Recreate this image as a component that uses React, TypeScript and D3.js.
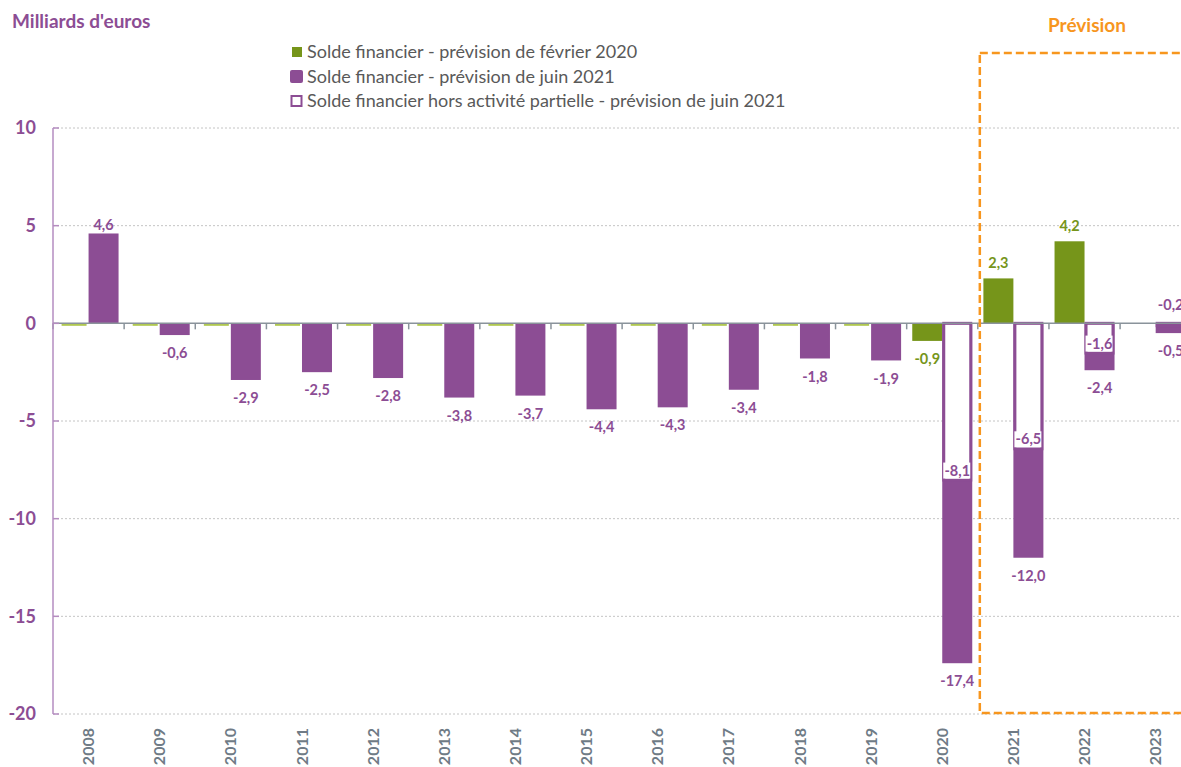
import React from "react";
import * as d3 from "d3";

const years = ["2008","2009","2010","2011","2012","2013","2014","2015","2016","2017","2018","2019","2020","2021","2022","2023"];
const fev2020: (number | null)[] = [0,0,0,0,0,0,0,0,0,0,0,0,-0.9,2.3,4.2,null];
const juin2021: number[] = [4.6,-0.6,-2.9,-2.5,-2.8,-3.8,-3.7,-4.4,-4.3,-3.4,-1.8,-1.9,-17.4,-12.0,-2.4,-0.5];
const horsAP: (number | null)[] = [null,null,null,null,null,null,null,null,null,null,null,null,-8.1,-6.5,-1.6,-0.2];
const yTicks = [10,5,0,-5,-10,-15,-20];
const legendLabels = [
  "Solde financier - prévision de février 2020",
  "Solde financier - prévision de juin 2021",
  "Solde financier hors activité partielle - prévision de juin 2021",
];
const forecastStart = "2021";

const PURPLE = "#8c4d94";
const GREEN = "#76951a";
const ORANGE = "#f7961e";
const FONT = "Lato, 'Open Sans', sans-serif";

const fmt = (v: number) => v.toFixed(1).replace(".", ",");

export default function App() {
  const W = 1181, H = 767;
  const left = 53;
  const catW = 71.14;
  const x0 = d3.scaleBand<string>().domain(years).range([left, left + catW * years.length]).padding(0);
  const x1 = d3.scaleBand<string>().domain(["fev", "juin"]).range([0, catW]).paddingInner(0).paddingOuter(0.186);
  const bw = x1.bandwidth();
  const y = d3.scaleLinear().domain([-20, 10]).range([714, 128]);
  const y0 = y(0);

  const fsStart = x0(forecastStart)!;

  return (
    <svg width={W} height={H} style={{ position: "absolute", left: 0, top: 0, background: "#fff" }} fontFamily={FONT}>
      {/* gridlines */}
      {yTicks.filter(t => t !== 0).map(t => (
        <line key={"g" + t} x1={left} x2={W} y1={y(t)} y2={y(t)} stroke="#c4c4c4" strokeWidth={1} strokeDasharray="2,2" />
      ))}
      {/* y tick labels */}
      {yTicks.map(t => (
        <text key={"yt" + t} x={36} y={y(t)} dy="0.35em" textAnchor="end" fontSize={18} fontWeight="bold" fill={PURPLE}>{t}</text>
      ))}
      {/* title */}
      <text x={12} y={28} fontSize={19} fontWeight="bold" fill={PURPLE}>Milliards d'euros</text>

      {/* bars green */}
      {years.map((yr, i) => {
        const v = fev2020[i];
        if (v === null) return null;
        const bx = x0(yr)! + x1("fev")!;
        if (v === 0) {
          return <line key={"gz" + yr} x1={bx + 3} x2={bx + bw - 2} y1={y0 + 1.5} y2={y0 + 1.5} stroke="#b0c850" strokeWidth={2} />;
        }
        return <rect key={"gb" + yr} x={bx} y={Math.min(y(v), y0)} width={bw} height={Math.abs(y(v) - y0)} fill={GREEN} />;
      })}
      {/* bars purple */}
      {years.map((yr, i) => {
        const v = juin2021[i];
        const bx = x0(yr)! + x1("juin")!;
        return <rect key={"pb" + yr} x={bx} y={Math.min(y(v), y0)} width={bw} height={Math.abs(y(v) - y0)} fill={PURPLE} />;
      })}
      {/* hollow bars */}
      {years.map((yr, i) => {
        const v = horsAP[i];
        if (v === null) return null;
        const bx = x0(yr)! + x1("juin")!;
        const h = Math.abs(y(v) - y0);
        return <rect key={"hb" + yr} x={bx + 1.5} y={y0} width={bw - 3} height={Math.max(h - 1.5, 1)} fill="#fff" stroke={PURPLE} strokeWidth={3} />;
      })}

      {/* zero axis line */}
      <line x1={left} x2={W} y1={y0} y2={y0} stroke="#8a939b" strokeWidth={1.5} />
      {years.map(yr => (
        <line key={"xt" + yr} x1={x0(yr)!} x2={x0(yr)!} y1={y0} y2={y0 + 6} stroke="#8a939b" strokeWidth={1.5} />
      ))}
      {/* y axis */}
      <line x1={left} x2={left} y1={y(10)} y2={y(-20)} stroke="#b58cc0" strokeWidth={1.5} />
      {yTicks.map(t => (
        <line key={"ytk" + t} x1={left} x2={left + 6} y1={y(t)} y2={y(t)} stroke="#b58cc0" strokeWidth={1.5} />
      ))}

      {/* labels green */}
      {years.map((yr, i) => {
        const v = fev2020[i];
        if (v === null || v === 0) return null;
        const cx = x0(yr)! + x1("fev")! + bw / 2;
        const ly = v >= 0 ? y(v) - 15 : y(v) + 18;
        return <text key={"gl" + yr} x={cx} y={ly} dy="0.35em" textAnchor="middle" fontSize={14.5} fontWeight="bold" fill={GREEN}>{fmt(v)}</text>;
      })}
      {/* labels purple */}
      {years.map((yr, i) => {
        const v = juin2021[i];
        const cx = x0(yr)! + x1("juin")! + bw / 2;
        const ly = v >= 0 ? y(v) - 9 : y(v) + 18;
        return <text key={"pl" + yr} x={cx} y={ly} dy="0.35em" textAnchor="middle" fontSize={14.5} fontWeight="bold" fill={PURPLE}>{fmt(v)}</text>;
      })}
      {/* labels hollow */}
      {years.map((yr, i) => {
        const v = horsAP[i];
        if (v === null) return null;
        const cx = x0(yr)! + x1("juin")! + bw / 2;
        const h = Math.abs(y(v) - y0);
        const ly = h < 20 ? y0 - 18 : y(v) - 11;
        return (
          <g key={"hl" + yr}>
            {h >= 20 && <rect x={cx - 14} y={ly - 8} width={27} height={16} fill="#fff" />}
            <text x={cx} y={ly} dy="0.35em" textAnchor="middle" fontSize={14.5} fontWeight="bold" fill={PURPLE}>{fmt(v)}</text>
          </g>
        );
      })}

      {/* x labels */}
      {years.map(yr => (
        <text key={"xl" + yr} transform={`translate(${x0(yr)! + catW / 2},728) rotate(-90)`} dy="0.35em" textAnchor="end" fontSize={16} fontWeight="bold" fill="#6f7b86">{yr}</text>
      ))}

      {/* forecast box */}
      <rect x={fsStart + 2} y={53} width={W} height={713 - 53} fill="none" stroke={ORANGE} strokeWidth={2.5} strokeDasharray="8,4" />
      <text x={1087} y={32} textAnchor="middle" fontSize={19} fontWeight="bold" fill={ORANGE}>Prévision</text>

      {/* legend */}
      <g>
        <rect x={292} y={47} width={10} height={10} fill={GREEN} />
        <text x={307} y={52} dy="0.35em" fontSize={18} fill="#595959">{legendLabels[0]}</text>
        <rect x={290} y={70} width={13} height={13} rx={2} fill={PURPLE} />
        <text x={307} y={77} dy="0.35em" fontSize={18} fill="#595959">{legendLabels[1]}</text>
        <rect x={291.5} y={96} width={10} height={10} fill="#fff" stroke={PURPLE} strokeWidth={2} />
        <text x={307} y={101} dy="0.35em" fontSize={18} fill="#595959">{legendLabels[2]}</text>
      </g>
    </svg>
  );
}
